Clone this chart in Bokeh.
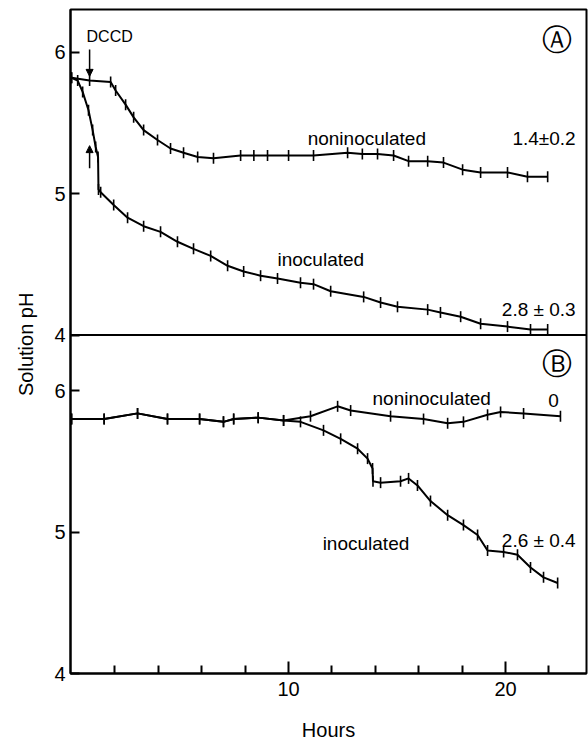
import numpy as np
from bokeh.plotting import figure
from bokeh.models import (Range1d, FixedTicker, CustomJSTickFormatter,
                          Span, Label, Arrow, NormalHead)
from bokeh.embed import file_html
from bokeh.resources import INLINE

# ---------------- data ----------------
# Panel A
hours_A_non = [0.0, 0.83, 1.80, 2.03, 2.49, 2.86, 3.32, 3.96, 4.56, 5.16, 5.81, 6.54, 7.79,
               8.4, 9.03, 10.0, 11.15, 12.72, 13.4, 14.10, 14.84, 15.53, 16.41, 17.14, 18.02,
               18.85, 20.09, 21.01, 21.94]
ph_A_non = [5.82, 5.80, 5.79, 5.73, 5.63, 5.54, 5.45, 5.38, 5.32, 5.29, 5.26, 5.25, 5.27,
            5.27, 5.27, 5.27, 5.27, 5.29, 5.28, 5.28, 5.27, 5.23, 5.23, 5.22, 5.17,
            5.15, 5.15, 5.12, 5.12]
hours_A_inoc = [0.0, 0.28, 0.51, 0.78, 0.97, 1.11, 1.22, 1.24, 1.34, 1.94, 2.58, 3.32, 4.10,
                4.88, 5.62, 6.41, 7.19, 7.93, 8.71, 9.49, 10.55, 11.15, 11.94, 13.46, 14.24,
                15.02, 16.41, 17.00, 17.93, 18.85, 20.09, 21.15, 21.94]
ph_A_inoc = [5.82, 5.80, 5.72, 5.59, 5.45, 5.33, 5.26, 5.03, 5.01, 4.92, 4.83, 4.77, 4.73,
             4.66, 4.61, 4.56, 4.49, 4.45, 4.42, 4.40, 4.37, 4.36, 4.31, 4.27, 4.23,
             4.20, 4.18, 4.16, 4.13, 4.08, 4.06, 4.04, 4.04]

# Panel B
hours_B_non = [0.0, 1.5, 3.04, 4.42, 5.9, 7.00, 7.47, 8.6, 9.77, 11.01, 12.26, 12.86, 14.70,
               16.22, 17.33, 18.06, 19.17, 19.77, 20.83, 22.53]
ph_B_non = [5.80, 5.80, 5.84, 5.80, 5.80, 5.78, 5.80, 5.81, 5.79, 5.82, 5.89, 5.86, 5.82,
            5.80, 5.77, 5.78, 5.83, 5.85, 5.84, 5.82]
hours_B_inoc = [0.0, 1.5, 3.04, 4.42, 5.9, 7.00, 7.47, 8.6, 9.77, 10.55, 11.61, 12.40, 13.18,
                13.64, 13.87, 13.89, 14.24, 15.16, 15.53, 15.94, 16.54, 17.33, 18.06, 18.71,
                19.17, 19.91, 20.55, 21.15, 21.75, 22.40]
ph_B_inoc = [5.80, 5.80, 5.84, 5.80, 5.80, 5.78, 5.80, 5.81, 5.79, 5.78, 5.72, 5.66, 5.59,
             5.52, 5.45, 5.36, 5.35, 5.36, 5.38, 5.33, 5.22, 5.12, 5.05, 4.98,
             4.87, 4.86, 4.84, 4.75, 4.68, 4.64]

ph_ticks = [4, 5, 6]
hour_major_ticks = [10, 20]
hour_minor_ticks = [2, 4, 6, 8, 12, 14, 16, 18, 22]

# ---------------- figure ----------------
FONT = "Liberation Sans"

# panel B uses the default y range; panel A its own range stacked above it
yB = Range1d(4.0, 8.697)
yA = Range1d(1.606, 6.303)
shift = yB.start - yA.start  # A value -> B coordinate

p = figure(width=588, height=743, output_backend="svg", toolbar_location=None,
           x_range=Range1d(-0.05, 23.73), y_range=yB,
           min_border_left=70, min_border_right=2, min_border_top=9, min_border_bottom=67)
p.extra_y_ranges = {"A": yA}
p.grid.visible = False
p.outline_line_color = "black"
p.outline_line_width = 2
p.background_fill_color = "white"
p.border_fill_color = "white"

# x axis
xa = p.xaxis[0]
xa.ticker = FixedTicker(ticks=hour_major_ticks, minor_ticks=hour_minor_ticks)
xa.major_tick_in = 12
xa.major_tick_out = 0
xa.minor_tick_in = 8
xa.minor_tick_out = 0
xa.major_tick_line_width = 2
xa.minor_tick_line_width = 2
xa.axis_line_width = 2
xa.major_label_text_font = FONT
xa.major_label_text_font_size = "20px"
xa.major_label_text_color = "black"
xa.major_label_standoff = 8
xa.axis_label = "Hours"
xa.axis_label_text_font = FONT
xa.axis_label_text_font_size = "20px"
xa.axis_label_text_font_style = "normal"
xa.axis_label_text_color = "black"
xa.axis_label_standoff = 20

# y axis (both panels share one axis line)
ya = p.yaxis[0]
ya.ticker = FixedTicker(ticks=ph_ticks + [t + shift for t in ph_ticks], minor_ticks=[])
ya.formatter = CustomJSTickFormatter(args=dict(split=6.39, off=shift),
                                     code="return (tick > split ? tick - off : tick).toFixed(0);")
ya.major_tick_in = 9
ya.major_tick_out = 0
ya.major_tick_line_width = 2
ya.axis_line_width = 2
ya.major_label_text_font = FONT
ya.major_label_text_font_size = "20px"
ya.major_label_text_color = "black"
ya.major_label_standoff = 5
ya.axis_label = "Solution  pH"
ya.axis_label_text_font = FONT
ya.axis_label_text_font_size = "20px"
ya.axis_label_text_font_style = "normal"
ya.axis_label_text_color = "black"
ya.axis_label_standoff = 14

# divider between panels
p.add_layout(Span(location=4, dimension="width", y_range_name="A",
                  line_color="black", line_width=2))

# curves
def curve(xs, ys, rng):
    kw = {} if rng is None else {"y_range_name": rng}
    p.line(xs, ys, line_color="black", line_width=2, **kw)
    p.scatter(xs, ys, marker="dash", angle=np.pi / 2, size=11, line_color="black",
              line_width=1.6, **kw)

curve(hours_A_non, ph_A_non, "A")
curve(hours_A_inoc, ph_A_inoc, "A")
curve(hours_B_non, ph_B_non, None)
curve(hours_B_inoc, ph_B_inoc, None)

# annotations
def lab(x, y, text, rng=None, size="19px", align="left", baseline="alphabetic", font=FONT):
    kw = {} if rng is None else {"y_range_name": rng}
    p.add_layout(Label(x=x, y=y, text=text, text_font=font, text_font_size=size,
                       text_align=align, text_baseline=baseline, text_color="black", **kw))

lab(0.69, 6.11, "DCCD", "A", size="16px", baseline="middle")
lab(10.88, 5.394, "noninoculated", "A")
lab(23.23, 5.394, "1.4±0.2", "A", align="right")
lab(9.49, 4.535, "inoculated", "A")
lab(23.23, 4.183, "2.8 ± 0.3", "A", align="right")
lab(22.35, 6.09, "Ⓐ", "A", size="30px", align="center", baseline="middle", font="DejaVu Sans")

lab(22.35, 6.19, "Ⓑ", None, size="30px", align="center", baseline="middle", font="DejaVu Sans")
lab(13.87, 5.944, "noninoculated", None)
lab(22.21, 5.93, "0", None, align="center")
lab(11.57, 4.92, "inoculated", None)
lab(23.23, 4.94, "2.6 ± 0.4", None, align="right")

# arrows at DCCD addition
p.add_layout(Arrow(x_start=0.83, y_start=6.02, x_end=0.83, y_end=5.83, y_range_name="A",
                   line_width=1.5, end=NormalHead(size=7, fill_color="black", line_color="black")))
p.add_layout(Arrow(x_start=0.83, y_start=5.18, x_end=0.83, y_end=5.34, y_range_name="A",
                   line_width=1.5, end=NormalHead(size=7, fill_color="black", line_color="black")))

open("out.html", "w").write(file_html(p, INLINE))
